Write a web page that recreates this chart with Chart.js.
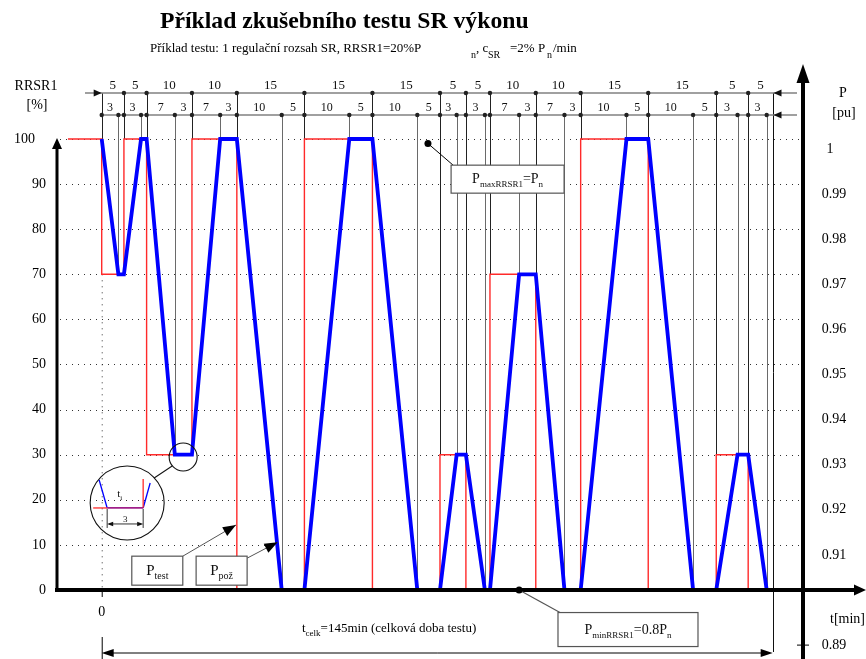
<!DOCTYPE html>
<html>
<head>
<meta charset="utf-8">
<script src="https://cdn.jsdelivr.net/npm/chart.js@4.4.1/dist/chart.umd.min.js"></script>
<style>
  body { margin: 0; background: #fff; }
  canvas { display: block; }
</style>
</head>
<body>
<canvas id="testChart" width="866" height="659"></canvas>
<script>
// node times [min] (both dimension rows)
const nodeTimes = [0, 3.6, 4.8, 8.5, 9.7, 15.8, 19.5, 25.6, 29.2, 38.9, 43.8, 53.5, 58.5, 68.2, 73.1, 76.7, 78.7, 82.8, 83.9, 90.2, 93.8, 100.0, 103.5, 113.4, 118.1, 127.8, 132.8, 137.4, 139.7, 143.7, 145];
// P_poz (blue) in % RRSR1 at each node
const pozValues = [100, 70, 70, 100, 100, 30, 30, 100, 100, 0, 0, 100, 100, 0, 0, 30, 30, 0, 0, 70, 70, 0, 0, 100, 100, 0, 0, 30, 30, 0, 0];
// P_test (red) steps: value switches at these times
const testTimes = [-7.3, 0, 4.8, 9.7, 19.5, 29.2, 43.8, 58.5, 73.1, 78.7, 83.9, 93.8, 103.5, 118.1, 132.8, 139.7, 145];
const testValues = [100, 70, 100, 30, 100, 0, 100, 0, 30, 0, 70, 0, 100, 0, 30, 0, 0];
// dimension labels
const topLabels = ['5', '5', '10', '10', '15', '15', '15', '5', '5', '10', '10', '15', '15', '5', '5'];
const subLabels = ['3', '', '3', '', '7', '3', '7', '3', '10', '5', '10', '5', '10', '5', '3', '', '3', '', '7', '3', '7', '3', '10', '5', '10', '5', '3', '', '3', ''];
const leftTicks = [0, 10, 20, 30, 40, 50, 60, 70, 80, 90, 100];
const rightTicks = [1, 0.99, 0.98, 0.97, 0.96, 0.95, 0.94, 0.93, 0.92, 0.91, 0.89];

const SERIF = '"Liberation Serif", "DejaVu Serif", serif';
const topNodes = testTimes.slice(1);

function font(size, bold) {
    return (bold ? 'bold ' : '') + size + 'px ' + SERIF;
}

// text with subscripts, parts = [[text, isSub], ...]
function richText(ctx, parts, x, y, size, align) {
    const subSize = Math.round(size * 0.66);
    let w = 0;
    parts.forEach(p => {
        ctx.font = font(p[1] ? subSize : size);
        w += ctx.measureText(p[0]).width;
    });
    let cx = align === 'center' ? x - w / 2 : x;
    ctx.textAlign = 'left';
    ctx.textBaseline = 'alphabetic';
    parts.forEach(p => {
        ctx.font = font(p[1] ? subSize : size);
        ctx.fillText(p[0], cx, p[1] ? y + size * 0.3 : y);
        cx += ctx.measureText(p[0]).width;
    });
}

function arrow(ctx, x1, y1, x2, y2, len, half) {
    const a = Math.atan2(y2 - y1, x2 - x1);
    ctx.beginPath();
    ctx.moveTo(x2, y2);
    ctx.lineTo(x2 - len * Math.cos(a) + half * Math.sin(a), y2 - len * Math.sin(a) - half * Math.cos(a));
    ctx.lineTo(x2 - len * Math.cos(a) - half * Math.sin(a), y2 - len * Math.sin(a) + half * Math.cos(a));
    ctx.closePath();
    ctx.fill();
}

function line(ctx, x1, y1, x2, y2) {
    ctx.beginPath();
    ctx.moveTo(x1, y1);
    ctx.lineTo(x2, y2);
    ctx.stroke();
}

function dot(ctx, x, y, r) {
    ctx.beginPath();
    ctx.arc(x, y, r, 0, Math.PI * 2);
    ctx.fill();
}

function box(ctx, x, y, w, h, parts, size) {
    ctx.fillStyle = '#fff';
    ctx.fillRect(x, y, w, h);
    ctx.strokeStyle = '#555';
    ctx.lineWidth = 1.2;
    ctx.strokeRect(x, y, w, h);
    ctx.fillStyle = '#111';
    richText(ctx, parts, x + w / 2, y + h / 2 + 4, size, 'center');
}

// level down to which the node line reaches
function nodeLevel(t, i) {
    let lvl = pozValues[i];
    const j = testTimes.indexOf(t);
    if (j > 0) lvl = Math.max(lvl, testValues[j - 1], testValues[j]);
    return lvl;
}

const drawing = {
    id: 'drawing',
    beforeDatasetsDraw(chart) {
        const { ctx, scales: { x, y } } = chart;
        const rowTop = 93, rowSub = 115;
        ctx.save();

        // dotted grid
        ctx.strokeStyle = '#333';
        ctx.lineWidth = 1;
        ctx.setLineDash([1, 5]);
        leftTicks.slice(1).forEach(v => {
            const py = Math.round(y.getPixelForValue(v)) + 0.5;
            line(ctx, 60, py, 800, py);
        });
        line(ctx, x.getPixelForValue(0) + 0.5, y.getPixelForValue(70), x.getPixelForValue(0) + 0.5, y.getPixelForValue(0));
        ctx.setLineDash([]);

        // node lines
        nodeTimes.forEach((t, i) => {
            if (t === 145) return;
            const main = topNodes.indexOf(t) >= 0;
            const px = Math.round(x.getPixelForValue(t)) + 0.5;
            ctx.strokeStyle = main ? '#222' : '#6a6a6a';
            ctx.lineWidth = 1;
            line(ctx, px, main ? rowTop : rowSub, px, y.getPixelForValue(nodeLevel(t, i)));
        });
        const pEnd = Math.round(x.getPixelForValue(145)) + 0.5;
        ctx.strokeStyle = '#111';
        line(ctx, pEnd, rowTop, pEnd, 652);

        // dimension rows
        ctx.strokeStyle = '#808080';
        ctx.lineWidth = 1.5;
        const p0 = x.getPixelForValue(0);
        line(ctx, 85, rowTop, 797, rowTop);
        line(ctx, p0, rowSub, 797, rowSub);
        ctx.fillStyle = '#111';
        arrow(ctx, 85, rowTop, p0, rowTop, 8, 3.5);
        arrow(ctx, 797, rowTop, pEnd, rowTop, 8, 3.5);
        arrow(ctx, 797, rowSub, pEnd, rowSub, 8, 3.5);
        ctx.fillStyle = '#222';
        topNodes.forEach((t, k) => {
            if (k > 0 && k < topNodes.length - 1) dot(ctx, x.getPixelForValue(t), rowTop, 2.2);
        });
        nodeTimes.forEach((t, k) => {
            if (k < nodeTimes.length - 1) dot(ctx, x.getPixelForValue(t), rowSub, 2.2);
        });

        ctx.fillStyle = '#111';
        ctx.font = font(13);
        ctx.textAlign = 'center';
        ctx.textBaseline = 'alphabetic';
        topLabels.forEach((s, k) => {
            const m = (x.getPixelForValue(topNodes[k]) + x.getPixelForValue(topNodes[k + 1])) / 2;
            ctx.fillText(s, m, rowTop - 4);
        });
        ctx.font = font(12);
        subLabels.forEach((s, k) => {
            if (!s) return;
            const m = (x.getPixelForValue(nodeTimes[k]) + x.getPixelForValue(nodeTimes[k + 1])) / 2;
            ctx.fillText(s, m, rowSub - 4);
        });
        ctx.restore();
    },
    afterDatasetsDraw(chart) {
        const { ctx, scales: { x, y } } = chart;
        const y0 = y.getPixelForValue(0);
        const p0 = x.getPixelForValue(0);
        const pEnd = x.getPixelForValue(145);
        ctx.save();
        ctx.fillStyle = '#000';
        ctx.strokeStyle = '#000';

        // axes
        ctx.lineWidth = 3;
        line(ctx, 57, y0 + 1, 57, 148);
        arrow(ctx, 57, 160, 57, 138, 11, 5);
        ctx.lineWidth = 4;
        line(ctx, 55, y0, 856, y0);
        arrow(ctx, 840, y0, 866, y0, 12, 5.5);
        line(ctx, 803, 659, 803, 82);
        arrow(ctx, 803, 100, 803, 64, 19, 6.5);

        // tick labels
        ctx.font = font(14);
        ctx.textBaseline = 'middle';
        ctx.textAlign = 'right';
        leftTicks.forEach(v => ctx.fillText(String(v), v === 100 ? 35 : 46, y.getPixelForValue(v)));
        ctx.textAlign = 'center';
        rightTicks.forEach(p => ctx.fillText(String(p), p === 1 ? 830 : 834, y.getPixelForValue((p - 0.9) * 1000) + 10));
        ctx.lineWidth = 1;
        const p89 = y.getPixelForValue(-10) + 10;
        line(ctx, 797, p89, 809, p89);
        ctx.fillText('0', p0, 612);

        // axis titles
        ctx.fillText('RRSR1', 36, 86);
        ctx.fillText('[%]', 37, 105);
        ctx.fillText('P', 843, 93);
        ctx.fillText('[pu]', 844, 113);
        ctx.textAlign = 'right';
        ctx.fillText('t[min]', 865, 619);

        // time 0 marker below axis and total duration
        ctx.lineWidth = 1;
        line(ctx, p0 + 0.5, y0 + 2, p0 + 0.5, y0 + 7);
        line(ctx, p0 + 0.5, 637, p0 + 0.5, 659);
        line(ctx, p0 + 8, 653, pEnd - 8, 653);
        arrow(ctx, p0 + 20, 653, p0, 653, 12, 4);
        arrow(ctx, pEnd - 20, 653, pEnd, 653, 12, 4);
        richText(ctx, [['t'], ['celk', 1], ['=145min (celková doba testu)']], 302, 632, 13);

        // callout boxes
        const dMax = [x.getPixelForValue(70.5), y.getPixelForValue(99)];
        const bMax = [x.getPixelForValue(75.5), y.getPixelForValue(94.2)];
        line(ctx, dMax[0], dMax[1], bMax[0] + 2, bMax[1]);
        dot(ctx, dMax[0], dMax[1], 3.5);
        box(ctx, bMax[0], bMax[1], 113, 28, [['P'], ['maxRRSR1', 1], ['=P'], ['n', 1]], 14);

        const dMin = [x.getPixelForValue(90.2), y0];
        const bMin = [x.getPixelForValue(98.6), y.getPixelForValue(-5)];
        ctx.fillStyle = '#000';
        line(ctx, dMin[0], dMin[1], bMin[0] + 2, bMin[1]);
        dot(ctx, dMin[0], dMin[1], 3.5);
        box(ctx, bMin[0], bMin[1], 140, 34, [['P'], ['minRRSR1', 1], ['=0.8P'], ['n', 1]], 14);

        const bTest = [x.getPixelForValue(6.5), y.getPixelForValue(7.5)];
        const tipTest = [x.getPixelForValue(29.0), y.getPixelForValue(14.4)];
        ctx.fillStyle = '#000';
        ctx.lineWidth = 1;
        line(ctx, bTest[0] + 51, bTest[1], tipTest[0], tipTest[1]);
        arrow(ctx, bTest[0] + 51, bTest[1], tipTest[0], tipTest[1], 13, 5);
        box(ctx, bTest[0], bTest[1], 51, 29, [['P'], ['test', 1]], 15);

        const bPoz = [x.getPixelForValue(20.4), y.getPixelForValue(7.5)];
        const tipPoz = [x.getPixelForValue(38.0), y.getPixelForValue(10.6)];
        ctx.fillStyle = '#000';
        ctx.lineWidth = 1;
        line(ctx, bPoz[0] + 51, bPoz[1] + 2, tipPoz[0], tipPoz[1]);
        arrow(ctx, bPoz[0] + 51, bPoz[1] + 2, tipPoz[0], tipPoz[1], 13, 5);
        box(ctx, bPoz[0], bPoz[1], 51, 29, [['P'], ['pož', 1]], 15);

        // magnifier of the 3 min hold
        const sc = [x.getPixelForValue(17.6), y.getPixelForValue(29.5)];
        const bc = [x.getPixelForValue(5.5), y.getPixelForValue(19.3)];
        ctx.strokeStyle = '#111';
        ctx.lineWidth = 1.1;
        ctx.beginPath(); ctx.arc(sc[0], sc[1], 14, 0, Math.PI * 2); ctx.stroke();
        ctx.beginPath(); ctx.arc(bc[0], bc[1], 37, 0, Math.PI * 2); ctx.stroke();
        line(ctx, bc[0] + 27, bc[1] - 25, sc[0] - 11, sc[1] + 9);
        const [cx, cy] = bc;
        ctx.lineWidth = 1.3;
        ctx.strokeStyle = '#0000ff';
        line(ctx, cx - 28, cy - 23, cx - 20, cy + 5);
        line(ctx, cx + 16, cy + 5, cx + 23, cy - 20);
        ctx.strokeStyle = '#ff2a2a';
        line(ctx, cx - 34, cy + 5, cx - 20, cy + 5);
        line(ctx, cx + 16, cy + 5, cx + 16, cy - 24);
        ctx.strokeStyle = '#a0208a';
        ctx.lineWidth = 1.8;
        line(ctx, cx - 20, cy + 5, cx + 16, cy + 5);
        ctx.strokeStyle = '#333';
        ctx.lineWidth = 1;
        line(ctx, cx - 20, cy + 6, cx - 20, cy + 25);
        line(ctx, cx + 16, cy + 6, cx + 16, cy + 25);
        line(ctx, cx - 18, cy + 21, cx + 14, cy + 21);
        ctx.fillStyle = '#111';
        arrow(ctx, cx - 10, cy + 21, cx - 20, cy + 21, 6, 2.2);
        arrow(ctx, cx + 6, cy + 21, cx + 16, cy + 21, 6, 2.2);
        ctx.font = font(9);
        ctx.textAlign = 'center';
        ctx.textBaseline = 'alphabetic';
        ctx.fillText('3', cx - 2, cy + 19);
        richText(ctx, [['t'], ['i', 1]], cx - 10, cy - 6, 11);

        // title and subtitle
        ctx.fillStyle = '#000';
        ctx.font = font(23.7, true);
        ctx.textAlign = 'left';
        ctx.fillText('Příklad zkušebního testu SR výkonu', 160, 28);
        richText(ctx, [['Příklad testu: 1 regulační rozsah SR, RRSR1=20%P']], 150, 52, 13);
        ctx.font = font(10);
        ctx.fillText('n', 471, 58);
        ctx.fillText('SR', 488, 58);
        ctx.fillText('n', 547, 58);
        ctx.font = font(13);
        ctx.fillText(', c', 476, 52);
        ctx.fillText('=2% P', 510, 52);
        ctx.fillText('/min', 553, 52);
        ctx.restore();
    }
};

const chart = new Chart(document.getElementById('testChart'), {
    type: 'line',
    data: {
        datasets: [{
            label: 'Ppož',
            data: nodeTimes.map((t, i) => ({ x: t, y: pozValues[i] })),
            borderColor: '#0000ff',
            borderWidth: 3.8,
            pointRadius: 0,
            tension: 0
        }, {
            label: 'Ptest',
            data: testTimes.map((t, i) => ({ x: t, y: testValues[i] })),
            borderColor: '#ff2a2a',
            borderWidth: 1.4,
            pointRadius: 0,
            stepped: true
        }]
    },
    options: {
        responsive: false,
        animation: false,
        events: [],
        layout: { padding: 0 },
        scales: {
            x: { type: 'linear', display: false, min: -21.98, max: 165.16 },
            y: { type: 'linear', display: false, min: -15.3, max: 130.82 }
        },
        plugins: {
            legend: { display: false },
            tooltip: { enabled: false }
        }
    },
    plugins: [drawing]
});
</script>
</body>
</html>
